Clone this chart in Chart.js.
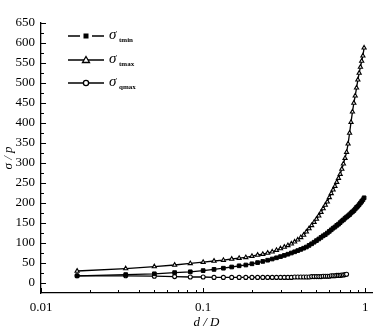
<!DOCTYPE html>
<html>
<head>
<meta charset="utf-8">
<script src="https://cdn.jsdelivr.net/npm/chart.js@4.4.1/dist/chart.umd.min.js"></script>
<style>
  html, body { margin: 0; padding: 0; background: #fff; }
  canvas { display: block; }
</style>
</head>
<body>
<canvas id="chart-area" width="386" height="335"></canvas>
<script>
"use strict";

// d/D sampled every 1/60
const D_OVER_D = [
  0.0167, 0.0333, 0.05, 0.0667, 0.0833, 0.1, 0.1167, 0.1333, 0.15, 0.1667,
  0.1833, 0.2, 0.2167, 0.2333, 0.25, 0.2667, 0.2833, 0.3, 0.3167, 0.3333,
  0.35, 0.3667, 0.3833, 0.4, 0.4167, 0.4333, 0.45, 0.4667, 0.4833, 0.5,
  0.5167, 0.5333, 0.55, 0.5667, 0.5833, 0.6, 0.6167, 0.6333, 0.65, 0.6667,
  0.6833, 0.7, 0.7167, 0.7333, 0.75, 0.7667, 0.7833, 0.8, 0.8167, 0.8333,
  0.85, 0.8667, 0.8833, 0.9, 0.9167, 0.9333, 0.95, 0.9667, 0.9833
];

const SIGMA_TMIN = [
  18, 21, 23, 26, 28, 31, 34, 37, 40, 43,
  45, 48, 51, 54, 57, 60, 63, 66, 69, 72,
  75, 78, 81, 84, 87, 90, 94, 98, 102, 106,
  110, 114, 118, 121, 125, 129, 133, 137, 140, 144,
  147, 151, 155, 158, 162, 165, 168, 171, 175, 178,
  181, 185, 189, 192, 196, 200, 204, 208, 213
];

const SIGMA_TMAX = [
  30, 36, 41, 45, 49, 52, 55, 57, 60, 62,
  64, 67, 70, 72, 75, 78, 82, 86, 90, 94,
  98, 103, 108, 114, 120, 128, 136, 144, 152, 160,
  168, 177, 186, 195, 203, 214, 224, 233, 242, 252,
  262, 272, 285, 298, 312, 327, 348, 375, 402, 428,
  450, 468, 488, 508, 525, 540, 555, 568, 588
];

// qmax stops at d/D ~ 0.77
const SIGMA_QMAX = [
  18, 18, 17, 16, 15, 15, 14, 14, 14, 14,
  14, 14, 14, 14, 14, 14, 14, 14, 14, 14,
  14, 15, 15, 15, 15, 15, 15, 16, 16, 16,
  16, 16, 17, 17, 17, 17, 18, 18, 18, 19,
  19, 19, 20, 20, 21, 22
];

const SERIES_SUBS = ["tmin", "tmax", "qmax"];
const X_LABELS = [0.01, 0.1, 1];

const SERIF = "'Liberation Serif', 'Times New Roman', serif";

function toPoints(values) {
  return values.map((v, i) => ({ x: D_OVER_D[i], y: v }));
}

// small tick marks pointing into the plot
const inwardTicks = {
  id: "inwardTicks",
  afterDatasetsDraw(chart) {
    const ctx = chart.ctx;
    const xs = chart.scales.x;
    const ys = chart.scales.y;
    ctx.save();
    ctx.strokeStyle = "#000";
    ctx.lineWidth = 1;
    ctx.beginPath();
    ys.ticks.forEach(t => {
      if (t.value < 0) return;
      const major = t.value % 50 === 0;
      const py = Math.round(ys.getPixelForValue(t.value)) + 0.5;
      ctx.moveTo(ys.right, py);
      ctx.lineTo(ys.right + (major ? 5 : 3), py);
    });
    xs.ticks.forEach(t => {
      const e = Math.floor(Math.log10(t.value) + 1e-9);
      const m = t.value / Math.pow(10, e);
      if (Math.abs(m - Math.round(m)) > 1e-6) return;
      const major = Math.round(m) === 1;
      const px = Math.round(xs.getPixelForValue(t.value)) + 0.5;
      ctx.moveTo(px, xs.top);
      ctx.lineTo(px, xs.top - (major ? 5 : 3));
    });
    ctx.stroke();
    ctx.restore();
  }
};

// legend in the upper left corner of the plot
const sigmaLegend = {
  id: "sigmaLegend",
  afterDraw(chart) {
    const ctx = chart.ctx;
    const rows = [36, 60, 83];
    ctx.save();
    ctx.strokeStyle = "#000";
    ctx.fillStyle = "#000";
    ctx.lineWidth = 1.3;
    rows.forEach((y, i) => {
      const cx = 86;
      ctx.beginPath();
      if (i === 0) {
        ctx.moveTo(68, y); ctx.lineTo(80, y);
        ctx.moveTo(92, y); ctx.lineTo(104, y);
      } else {
        ctx.moveTo(68, y); ctx.lineTo(104, y);
      }
      ctx.stroke();
      if (i === 0) {
        ctx.fillRect(cx - 2.5, y - 2.5, 5, 5);
      } else if (i === 1) {
        ctx.beginPath();
        ctx.moveTo(cx, y - 3.5);
        ctx.lineTo(cx + 3.5, y + 2.5);
        ctx.lineTo(cx - 3.5, y + 2.5);
        ctx.closePath();
        ctx.fillStyle = "#fff";
        ctx.fill();
        ctx.stroke();
        ctx.fillStyle = "#000";
      } else {
        ctx.beginPath();
        ctx.arc(cx, y, 2.6, 0, Math.PI * 2);
        ctx.fillStyle = "#fff";
        ctx.fill();
        ctx.stroke();
        ctx.fillStyle = "#000";
      }
      ctx.textBaseline = "alphabetic";
      ctx.textAlign = "left";
      ctx.font = "italic 15px " + SERIF;
      ctx.fillText("σ", 109, y + 3);
      ctx.font = "bold 7px " + SERIF;
      ctx.fillText(SERIES_SUBS[i], 119, y + 6);
    });
    ctx.restore();
  }
};

const config = {
  type: "scatter",
  data: {
    datasets: [
      {
        label: "σ tmin",
        data: toPoints(SIGMA_TMIN),
        showLine: true,
        borderColor: "#000",
        borderWidth: 1.3,
        pointStyle: "rect",
        pointRadius: 2.6,
        pointBackgroundColor: "#000",
        pointBorderColor: "#000",
        pointBorderWidth: 1
      },
      {
        label: "σ tmax",
        data: toPoints(SIGMA_TMAX),
        showLine: true,
        borderColor: "#000",
        borderWidth: 1.3,
        pointStyle: "triangle",
        pointRadius: 2.4,
        pointBackgroundColor: "#fff",
        pointBorderColor: "#000",
        pointBorderWidth: 1.1
      },
      {
        label: "σ qmax",
        data: toPoints(SIGMA_QMAX),
        showLine: true,
        borderColor: "#000",
        borderWidth: 1.3,
        pointStyle: "circle",
        pointRadius: 2,
        pointBackgroundColor: "#fff",
        pointBorderColor: "#000",
        pointBorderWidth: 1.1
      }
    ]
  },
  options: {
    responsive: false,
    animation: false,
    devicePixelRatio: 1,
    layout: { padding: { top: 23, right: 14, left: 0, bottom: 0 } },
    plugins: {
      legend: { display: false },
      tooltip: { enabled: false }
    },
    scales: {
      x: {
        type: "logarithmic",
        min: 0.01,
        max: 1.1,
        afterFit(scale) { scale.height = 42; },
        grid: { display: false, drawTicks: false },
        border: { display: true, color: "#000", width: 1.3 },
        ticks: {
          autoSkip: false,
          maxRotation: 0,
          padding: 7,
          color: "#000",
          font: { family: SERIF, size: 13 },
          callback: v => (X_LABELS.includes(v) ? String(v) : "")
        },
        title: {
          display: true,
          text: "d / D",
          color: "#000",
          font: { family: SERIF, size: 13, style: "italic" },
          padding: { top: 0, bottom: 5 }
        }
      },
      y: {
        min: -25,
        max: 650,
        afterFit(scale) { scale.width = 41; },
        grid: { display: false, drawTicks: false },
        border: { display: true, color: "#000", width: 1.3 },
        ticks: {
          stepSize: 25,
          autoSkip: false,
          padding: 6,
          color: "#000",
          font: { family: SERIF, size: 13 },
          callback: v => (v >= 0 && v % 50 === 0 ? String(v) : "")
        },
        title: {
          display: true,
          text: "σ / p",
          color: "#000",
          font: { family: SERIF, size: 13, style: "italic" },
          padding: { top: 1, bottom: 0 }
        }
      }
    }
  },
  plugins: [inwardTicks, sigmaLegend]
};

window.onload = function() {
  const ctx = document.getElementById("chart-area").getContext("2d");
  window.sigmaChart = new Chart(ctx, config);
};
</script>
</body>
</html>
